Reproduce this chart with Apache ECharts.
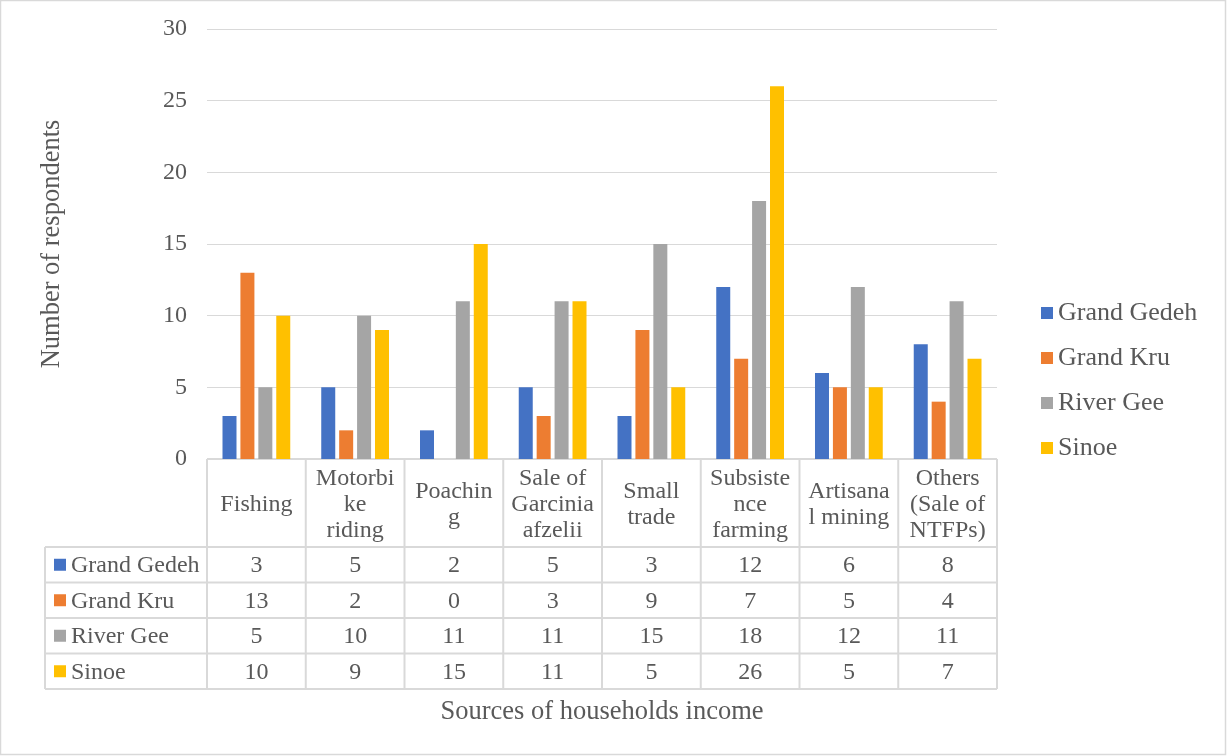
<!DOCTYPE html>
<html><head><meta charset="utf-8">
<script src="https://cdn.jsdelivr.net/npm/echarts@6/dist/echarts.min.js"></script>
<style>html,body{margin:0;padding:0;background:#fff}#c{width:1227px;height:756px}</style>
</head><body><div id="c"></div>
<script>
const categories = ["Fishing","Motorbike riding","Poaching","Sale of Garcinia afzelii","Small trade","Subsistence farming","Artisanal mining","Others (Sale of NTFPs)"];
const headerLabels = ["Fishing","Motorbi\nke\nriding","Poachin\ng","Sale of\nGarcinia\nafzelii","Small\ntrade","Subsiste\nnce\nfarming","Artisana\nl mining","Others\n(Sale of\nNTFPs)"];
const seriesNames = ["Grand Gedeh","Grand Kru","River Gee","Sinoe"];
const grandGedeh = [3,5,2,5,3,12,6,8];
const grandKru = [13,2,0,3,9,7,5,4];
const riverGee = [5,10,11,11,15,18,12,11];
const sinoe = [10,9,15,11,5,26,5,7];
const colors = ["#4472C4","#ED7D31","#A5A5A5","#FFC000"];
const yTicks = [0,5,10,15,20,25,30];

const allSeries = [grandGedeh, grandKru, riverGee, sinoe];
const FONT = "'Liberation Serif', 'Times New Roman', serif";
const TXT = "#595959";
const LINE = "#d9d9d9";

const chart = echarts.init(document.getElementById('c'));
chart.setOption({
  animation:false,
  color: colors,
  grid:{left:207,right:230,top:29,bottom:297,containLabel:false},
  legend:{orient:'vertical',left:1036,top:295,itemWidth:12,itemHeight:12,itemGap:19,icon:'rect',
    textStyle:{fontFamily:FONT,fontSize:26,color:TXT,lineHeight:26,padding:[0,0,0,0]},data:seriesNames},
  xAxis:{type:'category',data:categories,axisLine:{show:false},axisTick:{show:false},axisLabel:{show:false}},
  yAxis:{type:'value',min:yTicks[0],max:yTicks[yTicks.length-1],interval:5,
    axisLine:{show:false},axisTick:{show:false},
    axisLabel:{fontFamily:FONT,fontSize:24,color:TXT,margin:20,padding:[4,0,0,0]},
    splitLine:{lineStyle:{color:LINE,width:1}},
    name:'Number of respondents',nameLocation:'middle',nameGap:141,nameRotate:90,
    nameTextStyle:{fontFamily:FONT,fontSize:26.5,color:TXT}},
  series: seriesNames.map((n,i)=>({name:n,type:'bar',data:allSeries[i],barWidth:14,barGap:'28%',
    itemStyle:{color:colors[i]}}))
});

// Data table built from the arrays, positioned via the axes
const x0 = chart.convertToPixel({xAxisIndex:0},0);
const x1 = chart.convertToPixel({xAxisIndex:0},1);
const band = x1 - x0;
const yZero = chart.convertToPixel({yAxisIndex:0},0);
const left = x0 - band/2;
const right = left + band*categories.length;
const headerH = 88, rowH = 35.5, tableLeft = 45;
const g = [];
const ln = (a,b,c,d)=>g.push({type:'line',shape:{x1:a,y1:b,x2:c,y2:d},style:{stroke:LINE,lineWidth:2},silent:true});
ln(left,yZero,right,yZero);
for(let r=0;r<=seriesNames.length;r++){
  const y = yZero+headerH+r*rowH;
  ln(tableLeft,y,right,y);
}
const bottomY = yZero+headerH+seriesNames.length*rowH;
for(let c=0;c<=categories.length;c++){
  const x = left+c*band;
  ln(x,yZero,x,bottomY);
}
ln(tableLeft,yZero+headerH,tableLeft,bottomY);
headerLabels.forEach((t,i)=>{
  g.push({type:'text',x:left+band*(i+0.5),y:yZero+headerH/2+2,style:{text:t,fill:TXT,font:'24px '+FONT,align:'center',verticalAlign:'middle',lineHeight:26},silent:true});
});
seriesNames.forEach((n,r)=>{
  const yc = yZero+headerH+(r+0.5)*rowH;
  g.push({type:'rect',shape:{x:tableLeft+9,y:yc-6,width:12,height:12},style:{fill:colors[r]},silent:true});
  g.push({type:'text',x:tableLeft+26,y:yc+1,style:{text:n,fill:TXT,font:'24px '+FONT,align:'left',verticalAlign:'middle'},silent:true});
  allSeries[r].forEach((v,i)=>{
    g.push({type:'text',x:left+band*(i+0.5),y:yc+1,style:{text:String(v),fill:TXT,font:'24px '+FONT,align:'center',verticalAlign:'middle'},silent:true});
  });
});
g.push({type:'text',x:(left+right)/2,y:712,style:{text:'Sources of households income',fill:TXT,font:'26.5px '+FONT,align:'center',verticalAlign:'middle'},silent:true});
g.push({type:'rect',shape:{x:0.5,y:0.5,width:1225,height:754},style:{fill:null,stroke:LINE,lineWidth:1.5},silent:true});
chart.setOption({graphic:g});
</script></body></html>
